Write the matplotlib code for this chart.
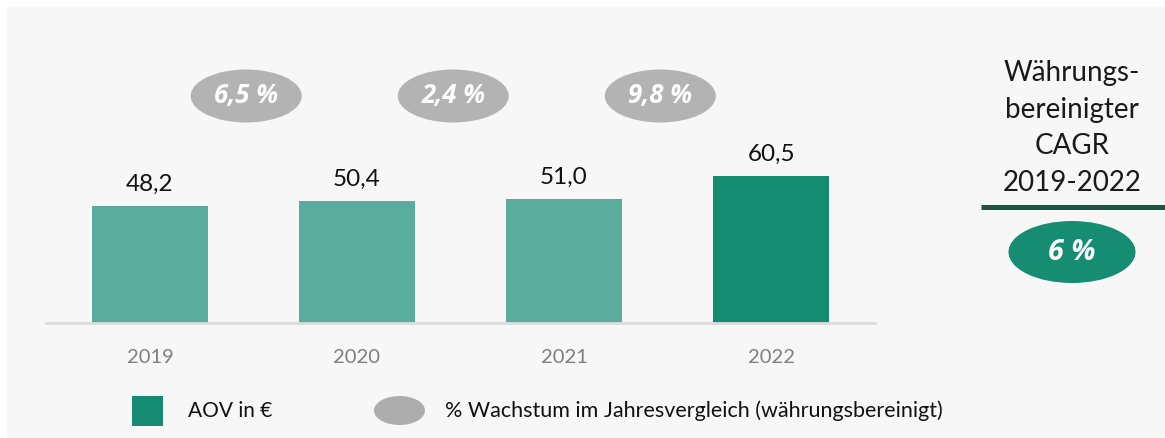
import matplotlib
matplotlib.use("Agg")
import matplotlib.pyplot as plt
from matplotlib.patches import Ellipse, Rectangle

years = ["2019", "2020", "2021", "2022"]
aov = [48.2, 50.4, 51.0, 60.5]
aov_labels = ["48,2", "50,4", "51,0", "60,5"]
growth_labels = ["6,5 %", "2,4 %", "9,8 %"]
cagr_title = "Währungs-\nbereinigter\nCAGR\n2019-2022"
cagr_label = "6 %"
legend_labels = ["AOV in €", "% Wachstum im Jahresvergleich (währungsbereinigt)"]

FONT = ["Lato", "DejaVu Sans"]
BOLDFONT = ["Open Sans", "DejaVu Sans"]
plt.rcParams["font.family"] = FONT

W, H = 1165, 438
fig = plt.figure(figsize=(W / 100, H / 100), dpi=100)
fig.patch.set_facecolor("white")

# overlay axes in pixel coordinates for decoration
ov = fig.add_axes([0, 0, 1, 1], zorder=0)
ov.set_xlim(0, W)
ov.set_ylim(H, 0)
ov.axis("off")
ov.add_patch(Rectangle((7, 7), W - 7, H - 7, facecolor="#f7f7f7", edgecolor="none"))

# main bar axes
left_px, right_px, base_px, top_px = 46, 875, 323, 7
ax = fig.add_axes([left_px / W, (H - base_px) / H, (right_px - left_px) / W, (base_px - top_px) / H], zorder=1)
ax.patch.set_alpha(0)
px_per_unit = 2.43
ax.set_ylim(0, (base_px - top_px) / px_per_unit)
x = list(range(len(years)))
ax.set_xlim(-0.502, 3.502)
colors = ["#5aad9d"] * 3 + ["#158c72"]
bars = ax.bar(x, aov, width=0.56, color=colors, zorder=2)
for xi, v, lab in zip(x, aov, aov_labels):
    ax.annotate(lab, (xi, v), xytext=(0, 8), textcoords="offset points",
                ha="center", va="bottom", fontsize=17.5, color="#111111")
for s in ["top", "right", "left"]:
    ax.spines[s].set_visible(False)
ax.spines["bottom"].set_color("#dcdcdc")
ax.spines["bottom"].set_linewidth(2)
ax.set_yticks([])
ax.set_xticks(x)
ax.set_xticklabels(years, fontsize=14.5, color="#7f7f7f")
ax.tick_params(axis="x", length=0, pad=19)

# growth ellipses between bars
gy = (base_px - 96) / px_per_unit
for i, lab in enumerate(growth_labels):
    cx = i + 0.465
    ax.add_patch(Ellipse((cx, gy), 111 / 207, 53 / px_per_unit, facecolor="#b3b3b3",
                         edgecolor="none", zorder=2))
    ax.text(cx, gy, lab, ha="center", va="center", fontsize=18.5, color="white",
            fontweight="bold", style="italic", family=BOLDFONT, zorder=3)

# CAGR block
ov.text(1072, 128, cagr_title, ha="center", va="center", fontsize=20,
        color="#1a1a1a", linespacing=1.5)
ov.plot([981, 1165], [206.5, 206.5], color="#1b5646", linewidth=3.6, solid_capstyle="butt")
ov.add_patch(Ellipse((1072, 252), 127, 62, facecolor="#168c72", edgecolor="none"))
ov.text(1072, 252, cagr_label, ha="center", va="center", fontsize=20.5, color="white",
        fontweight="bold", style="italic", family=BOLDFONT)

# legend
ov.add_patch(Rectangle((132, 396), 31, 30, facecolor="#158c72", edgecolor="none"))
ov.text(188, 411, legend_labels[0], ha="left", va="center", fontsize=15, color="#111111")
ov.add_patch(Ellipse((399.5, 410.5), 51, 29, facecolor="#adadad", edgecolor="none"))
ov.text(445, 411, legend_labels[1], ha="left", va="center", fontsize=15.5, color="#111111")

fig.savefig("out.png", dpi=100, facecolor=fig.get_facecolor())
